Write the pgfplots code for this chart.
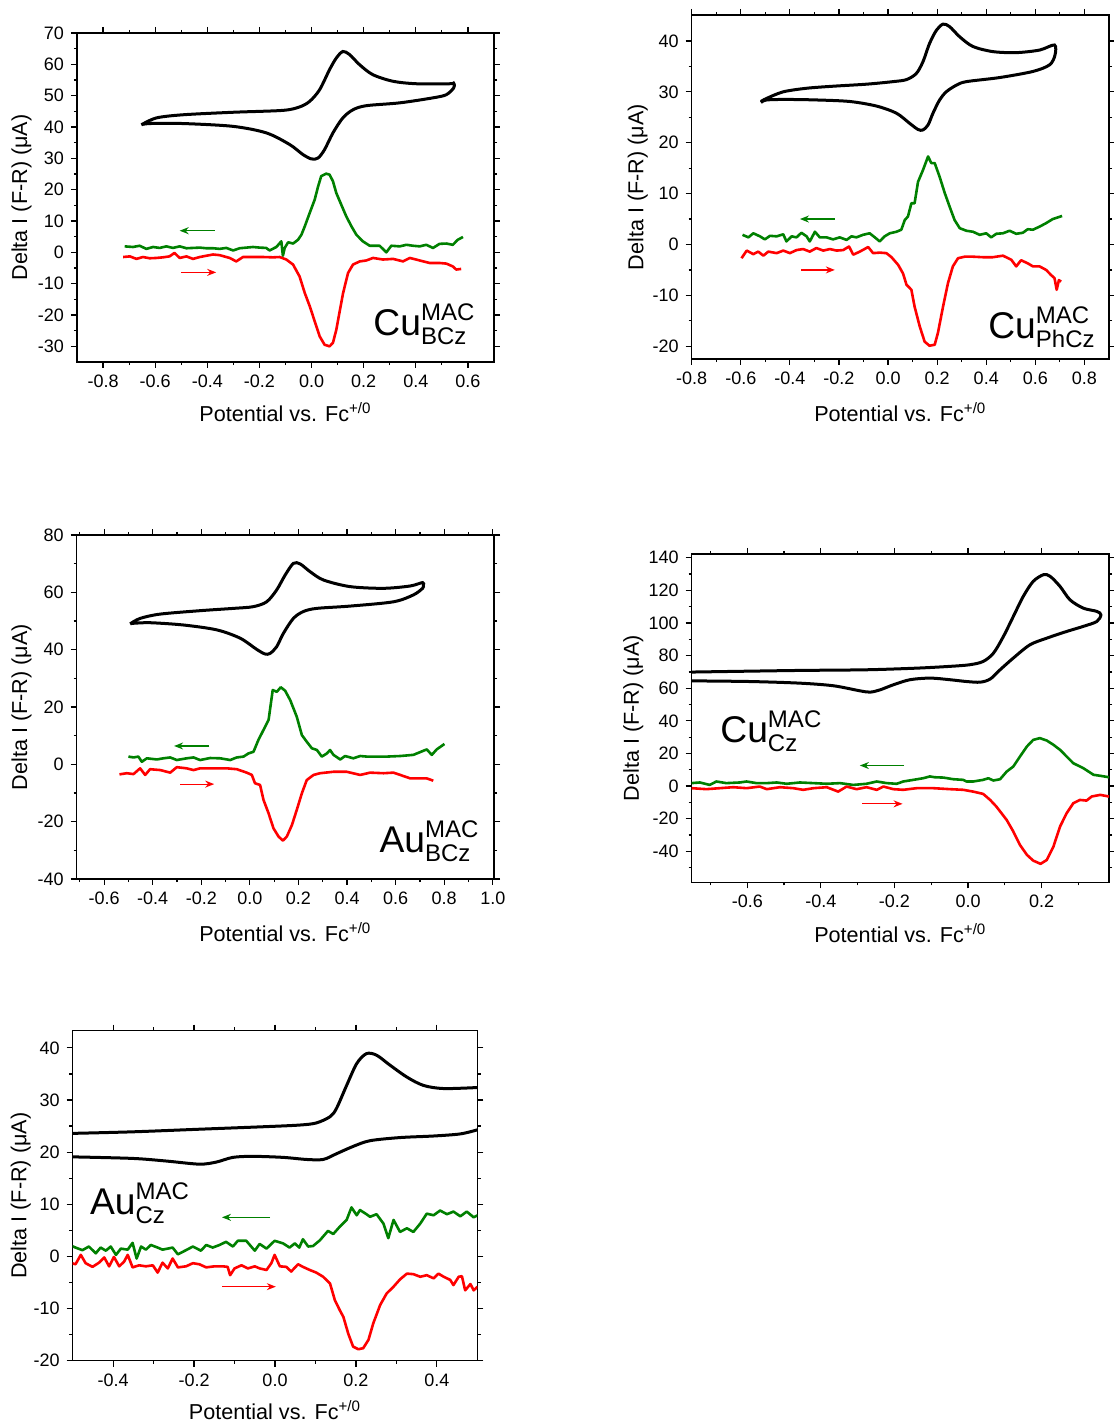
\documentclass[border=0pt]{standalone}
\usepackage{fontspec}
\setmainfont{Liberation Sans}
\usepackage{pgfplots}
\pgfplotsset{compat=1.18}
\usetikzlibrary{arrows.meta}
\definecolor{dgreen}{RGB}{0,128,0}
\newcommand{\cpd}[3]{{\fontsize{18.6}{20}\selectfont #1\rlap{\raisebox{0.4em}{\fontsize{12}{13}\selectfont #2}}\raisebox{-0.24em}{\fontsize{12}{13}\selectfont #3}}}
\pgfplotsset{
  panel/.style={
    scale only axis, anchor=south west,
    axis line style={line width=0.6pt},
    tick align=outside,
    major tick length=3pt, minor tick length=1.6pt,
    tick style={line width=0.6pt, black},
    tick label style={font=\fontsize{9}{10}\selectfont},
    label style={font=\fontsize{10.8}{12}\selectfont},
    /pgf/number format/assume math mode=true,
    x tick label style={/pgf/number format/.cd, fixed, fixed zerofill, precision=1, /tikz/.cd},
    xlabel={Potential vs. Fc\textsuperscript{+/0}},
    ylabel={Delta I (F-R) (μA)},
    xlabel style={anchor=base},
    ylabel style={anchor=center},
  },
  cv/.style={black, line width=1.5pt, smooth, tension=0.5},
  fw/.style={dgreen, line width=1.3pt, line join=round},
  rv/.style={red, line width=1.3pt, line join=round},
}
\begin{document}
\begin{tikzpicture}
\useasboundingbox (0,0) rectangle (556.5pt,714pt);

% ---------------- Panel 1: Cu BCz
\begin{axis}[panel, at={(38.5pt,533pt)}, width=208.5pt, height=164.5pt,
  xmin=-0.9, xmax=0.7, ymin=-35, ymax=70,
  xtick={-0.8,-0.6,-0.4,-0.2,0,0.2,0.4,0.6},
  minor xtick={-0.7,-0.5,-0.3,-0.1,0.1,0.3,0.5},
  ytick={-30,-20,-10,0,10,20,30,40,50,60,70},
  minor ytick={-25,-15,-5,5,15,25,35,45,55,65},
  xlabel style={at={(axis description cs:0.5,-0.182)}},
  ylabel style={at={(axis description cs:-0.133,0.5)}}]
\addplot[cv] coordinates {(-0.653,40.7) (-0.595,42.9) (-0.493,43.9) (-0.301,44.7) (-0.11,45.3) (-0.046,46.4) (-0.007,48.2) (0.031,51.9) (0.069,58.3) (0.095,62.0) (0.12,64.1) (0.146,63.1) (0.184,59.9) (0.235,56.7) (0.312,54.6) (0.402,53.8) (0.53,53.8) (0.545,54.0) (0.548,53.2) (0.545,52.4) (0.517,50.3) (0.466,49.3) (0.338,47.7) (0.21,46.8) (0.159,45.5) (0.12,42.9) (0.082,38.1) (0.05,32.8) (0.025,30.1) (0.0,29.8) (-0.033,31.2) (-0.084,34.4) (-0.173,38.1) (-0.301,40.2) (-0.493,41.1) (-0.621,41.1) (-0.653,40.7)};
\addplot[fw] coordinates {(-0.717,1.9)(-0.685,1.7)(-0.660,2.1)(-0.634,1.1)(-0.608,1.7)(-0.583,1.4)(-0.557,1.9)(-0.532,1.4)(-0.506,1.9)(-0.480,1.3)(-0.455,1.4)(-0.429,1.5)(-0.404,1.3)(-0.378,1.3)(-0.353,1.1)(-0.327,1.4)(-0.301,0.6)(-0.276,1.3)(-0.250,1.5)(-0.225,1.7)(-0.199,1.5)(-0.174,1.4)(-0.161,0.6)(-0.135,1.7)(-0.116,3.5)(-0.110,-1.1)(-0.103,1.4)(-0.090,3.2)(-0.071,2.8)(-0.052,4.0)(-0.039,5.6)(-0.026,8.3)(-0.007,12.6)(0.012,16.8)(0.025,21.0)(0.037,24.3)(0.056,25.1)(0.069,24.8)(0.082,22.7)(0.095,18.9)(0.114,15.2)(0.133,11.5)(0.153,8.3)(0.172,5.6)(0.197,3.5)(0.223,2.1)(0.261,2.1)(0.287,0)(0.306,2.1)(0.338,1.9)(0.364,2.4)(0.389,2.1)(0.415,1.9)(0.440,2.4)(0.466,1.4)(0.491,2.7)(0.517,2.8)(0.542,2.4)(0.561,4.0)(0.581,4.9)};
\addplot[rv] coordinates {(-0.723,-1.5)(-0.697,-1.3)(-0.672,-2.1)(-0.647,-1.5)(-0.621,-1.9)(-0.596,-1.8)(-0.570,-1.6)(-0.545,-1.3)(-0.526,-0.2)(-0.506,-1.8)(-0.480,-1.3)(-0.455,-2.1)(-0.429,-1.5)(-0.404,-1.1)(-0.378,-0.7)(-0.353,-0.9)(-0.314,-1.8)(-0.289,-2.9)(-0.263,-1.5)(-0.225,-1.5)(-0.186,-1.5)(-0.148,-1.6)(-0.122,-1.5)(-0.097,-2.3)(-0.071,-3.9)(-0.046,-7.7)(-0.026,-13.0)(-0.007,-17.2)(0.012,-22.0)(0.031,-26.8)(0.050,-29.5)(0.069,-30.0)(0.082,-28.9)(0.095,-24.7)(0.108,-18.8)(0.121,-13.0)(0.140,-6.6)(0.159,-3.9)(0.185,-2.9)(0.210,-2.6)(0.236,-1.8)(0.274,-2.3)(0.313,-2.1)(0.351,-2.9)(0.377,-1.8)(0.415,-2.6)(0.453,-3.4)(0.491,-3.4)(0.517,-3.6)(0.542,-4.5)(0.555,-5.5)(0.574,-5.3)};
\draw[dgreen, line width=0.6pt, -{Stealth[length=4.5pt,width=3.5pt]}] (axis cs:-0.372,6.9) -- (axis cs:-0.506,6.9);
\draw[red, line width=0.6pt, -{Stealth[length=4.5pt,width=3.5pt]}] (axis cs:-0.5,-6.4) -- (axis cs:-0.366,-6.4);
\node[anchor=base west, inner sep=0pt] at (axis cs:0.236,-26.6) {\cpd{Cu}{MAC}{BCz}};
\end{axis}

% ---------------- Panel 2: Cu PhCz
\begin{axis}[panel, at={(345.85pt,534.5pt)}, width=208.65pt, height=172pt,
  xmin=-0.8, xmax=0.9, ymin=-22.5, ymax=45.1,
  xtick={-0.8,-0.6,-0.4,-0.2,0,0.2,0.4,0.6,0.8},
  minor xtick={-0.7,-0.5,-0.3,-0.1,0.1,0.3,0.5,0.7},
  ytick={-20,-10,0,10,20,30,40},
  minor ytick={-15,-5,5,15,25,35},
  xlabel style={at={(axis description cs:0.5,-0.182)}},
  ylabel style={at={(axis description cs:-0.129,0.5)}}]
\addplot[cv] coordinates {(-0.518,28.1)(-0.495,28.7)(-0.427,30.0)(-0.332,30.7)(-0.224,31.1)(-0.088,31.5)(0.02,32.0)(0.075,32.4)(0.115,33.6)(0.142,35.9)(0.169,39.5)(0.197,42.1)(0.224,43.3)(0.251,42.8)(0.292,40.8)(0.346,38.9)(0.427,37.9)(0.522,37.7)(0.617,38.2)(0.678,39.2)(0.68,37.2)(0.658,35.3)(0.59,34.0)(0.454,32.8)(0.319,32.0)(0.278,31.3)(0.237,30.0)(0.21,28.4)(0.183,25.8)(0.163,23.5)(0.142,22.5)(0.122,22.6)(0.088,23.8)(0.034,25.8)(-0.047,27.2)(-0.156,28.1)(-0.292,28.4)(-0.414,28.5)(-0.495,28.4)(-0.518,27.9)};
\addplot[fw] coordinates {(-0.593,1.9)(-0.569,1.4)(-0.549,2.2)(-0.522,1.6)(-0.502,1.0)(-0.481,1.7)(-0.454,1.6)(-0.427,2.0)(-0.414,0.6)(-0.393,1.6)(-0.373,1.4)(-0.353,2.3)(-0.332,1.6)(-0.319,0.6)(-0.298,2.5)(-0.278,1.4)(-0.251,1.4)(-0.224,1.0)(-0.197,1.4)(-0.169,0.9)(-0.149,1.6)(-0.129,1.4)(-0.102,1.9)(-0.075,2.2)(-0.054,1.4)(-0.034,0.6)(-0.014,1.6)(0.007,2.2)(0.034,2.5)(0.054,2.9)(0.068,4.8)(0.081,5.5)(0.095,8.1)(0.108,8.1)(0.122,12.3)(0.142,14.6)(0.163,17.3)(0.176,16.0)(0.190,16.0)(0.210,13.3)(0.231,10.1)(0.251,7.4)(0.271,4.8)(0.292,3.2)(0.319,2.7)(0.346,2.5)(0.373,1.9)(0.400,2.2)(0.420,1.4)(0.441,2.1)(0.468,2.2)(0.495,2.7)(0.522,2.1)(0.549,2.3)(0.569,3.0)(0.590,2.9)(0.617,3.5)(0.644,4.2)(0.671,5.0)(0.709,5.6)};
\addplot[rv] coordinates {(-0.597,-2.7)(-0.576,-1.2)(-0.549,-1.9)(-0.529,-1.4)(-0.508,-2.2)(-0.488,-1.4)(-0.454,-1.7)(-0.427,-1.2)(-0.400,-1.7)(-0.373,-1.1)(-0.346,-0.9)(-0.319,-1.4)(-0.292,-0.7)(-0.264,-1.2)(-0.237,-0.9)(-0.210,-1.2)(-0.183,-1.1)(-0.159,-0.4)(-0.142,-2.0)(-0.115,-1.4)(-0.081,-0.5)(-0.061,-1.7)(-0.034,-1.6)(-0.007,-1.7)(0.014,-2.5)(0.041,-4.0)(0.061,-5.7)(0.075,-7.9)(0.095,-8.9)(0.108,-12.2)(0.129,-16.1)(0.149,-19.1)(0.169,-19.9)(0.190,-19.7)(0.203,-17.4)(0.224,-12.2)(0.244,-7.6)(0.264,-4.3)(0.285,-2.7)(0.312,-2.4)(0.346,-2.4)(0.386,-2.5)(0.427,-2.5)(0.468,-2.2)(0.502,-3.0)(0.522,-4.3)(0.542,-3.1)(0.569,-3.7)(0.590,-4.3)(0.617,-4.3)(0.644,-5.0)(0.664,-6.0)(0.678,-6.6)(0.687,-8.9)(0.696,-7.0)(0.705,-7.3)};
\draw[dgreen, line width=0.6pt, -{Stealth[length=4.5pt,width=3.5pt]}] (axis cs:-0.217,5.0) -- (axis cs:-0.359,5.0);
\draw[red, line width=0.6pt, -{Stealth[length=4.5pt,width=3.5pt]}] (axis cs:-0.353,-5.0) -- (axis cs:-0.217,-5.0);
\node[anchor=base west, inner sep=0pt] at (axis cs:0.407,-18.4) {\cpd{Cu}{MAC}{PhCz}};
\end{axis}

% ---------------- Panel 3: Au BCz
\begin{axis}[panel, at={(38.35pt,274.5pt)}, width=208.65pt, height=172pt,
  xmin=-0.713, xmax=1.005, ymin=-40, ymax=80,
  xtick={-0.6,-0.4,-0.2,0,0.2,0.4,0.6,0.8,1.0},
  minor xtick={-0.7,-0.5,-0.3,-0.1,0.1,0.3,0.5,0.7,0.9},
  ytick={-40,-20,0,20,40,60,80},
  minor ytick={-30,-10,10,30,50,70},
  xlabel style={at={(axis description cs:0.5,-0.182)}},
  ylabel style={at={(axis description cs:-0.132,0.5)}}]
\addplot[cv] coordinates {(-0.493,49.0)(-0.452,50.9)(-0.37,52.4)(-0.205,53.6)(-0.068,54.4)(0.014,55.0)(0.069,56.7)(0.11,60.8)(0.145,66.0)(0.179,70.1)(0.207,69.9)(0.248,67.2)(0.303,64.3)(0.412,62.0)(0.549,61.4)(0.659,62.2)(0.711,63.4)(0.714,62.4)(0.711,61.4)(0.673,59.1)(0.591,56.7)(0.412,55.2)(0.275,54.4)(0.22,53.3)(0.179,50.9)(0.138,45.7)(0.11,41.0)(0.083,38.7)(0.062,38.5)(0.028,40.1)(-0.04,44.0)(-0.136,46.9)(-0.273,48.6)(-0.41,49.4)(-0.479,49.2)(-0.493,49.0)};
\addplot[fw] coordinates {(-0.500,2.7)(-0.479,2.4)(-0.459,2.7)(-0.445,0.9)(-0.424,2.1)(-0.383,1.7)(-0.356,2.1)(-0.328,2.4)(-0.301,1.5)(-0.260,2.1)(-0.232,2.4)(-0.205,1.5)(-0.164,2.2)(-0.122,2.1)(-0.081,1.5)(-0.054,2.4)(-0.026,2.7)(-0.006,3.8)(0.015,4.4)(0.035,8.5)(0.056,12.0)(0.077,15.5)(0.094,25.9)(0.111,25.3)(0.127,26.9)(0.145,25.7)(0.166,22.4)(0.193,16.6)(0.214,10.2)(0.234,7.9)(0.255,5.6)(0.276,5.0)(0.296,2.7)(0.317,3.8)(0.330,5.0)(0.344,3.3)(0.372,1.7)(0.392,2.9)(0.426,2.1)(0.454,2.9)(0.481,2.7)(0.522,2.7)(0.564,2.7)(0.619,2.9)(0.673,3.3)(0.728,5.2)(0.749,3.3)(0.769,5.2)(0.801,7.1)};
\addplot[rv] coordinates {(-0.537,-3.5)(-0.507,-3.1)(-0.479,-3.4)(-0.452,-1.4)(-0.431,-3.7)(-0.411,-1.7)(-0.369,-2.0)(-0.328,-2.9)(-0.301,-1.0)(-0.260,-1.4)(-0.232,-2.0)(-0.205,-1.4)(-0.150,-1.4)(-0.095,-1.4)(-0.054,-1.7)(-0.013,-2.9)(0.008,-3.7)(0.021,-6.6)(0.042,-7.2)(0.056,-12.4)(0.077,-17.1)(0.097,-22.3)(0.118,-25.2)(0.136,-26.6)(0.152,-25.2)(0.173,-21.2)(0.193,-15.9)(0.214,-10.1)(0.234,-5.5)(0.262,-3.7)(0.289,-3.1)(0.344,-2.6)(0.399,-2.6)(0.454,-3.7)(0.495,-2.9)(0.550,-3.1)(0.591,-2.9)(0.619,-3.7)(0.660,-4.9)(0.701,-4.9)(0.728,-4.9)(0.755,-5.7)};
\draw[dgreen, line width=0.6pt, -{Stealth[length=4.5pt,width=3.5pt]}] (axis cs:-0.167,6.4) -- (axis cs:-0.312,6.4);
\draw[red, line width=0.6pt, -{Stealth[length=4.5pt,width=3.5pt]}] (axis cs:-0.287,-6.9) -- (axis cs:-0.147,-6.9);
\node[anchor=base west, inner sep=0pt] at (axis cs:0.532,-30.8) {\cpd{Au}{MAC}{BCz}};
\end{axis}

% ---------------- Panel 4: Cu Cz
\begin{axis}[panel, at={(345.85pt,272.85pt)}, width=208.65pt, height=164.15pt,
  xmin=-0.751, xmax=0.383, ymin=-59, ymax=142.3,
  xtick={-0.6,-0.4,-0.2,0,0.2},
  minor xtick={-0.7,-0.5,-0.3,-0.1,0.1,0.3},
  ytick={-40,-20,0,20,40,60,80,100,120,140},
  minor ytick={-50,-30,-10,10,30,50,70,90,110,130},
  xlabel style={at={(axis description cs:0.5,-0.184)}},
  ylabel style={at={(axis description cs:-0.140,0.5)}}]
\addplot[cv] coordinates {(-0.751,69.9)(-0.638,70.3)(-0.457,70.9)(-0.276,71.3)(-0.140,72.3)(-0.049,73.4)(0.005,74.4)(0.041,76.4)(0.069,81.5)(0.096,91.7)(0.123,104)(0.150,116.3)(0.177,125.5)(0.205,129.6)(0.223,128.6)(0.250,122.4)(0.277,114.2)(0.313,109.1)(0.350,107.1)(0.361,105)(0.350,100.9)(0.313,97.9)(0.268,94.8)(0.214,90.7)(0.168,86.6)(0.123,78.5)(0.087,71.3)(0.060,65.6)(0.033,63.7)(-0.004,64.1)(-0.049,65.2)(-0.103,66.2)(-0.158,65.2)(-0.203,62.1)(-0.239,59.0)(-0.266,57.6)(-0.294,58.4)(-0.366,61.5)(-0.457,63.1)(-0.593,64.1)(-0.751,64.5)};
\addplot[fw] coordinates {(-0.751,1.8)(-0.729,2.2)(-0.702,0.7)(-0.684,2.8)(-0.657,1.8)(-0.620,2.2)(-0.602,2.8)(-0.575,1.8)(-0.547,1.8)(-0.520,2.2)(-0.493,1.4)(-0.457,2.2)(-0.420,1.8)(-0.384,1.4)(-0.348,1.8)(-0.312,0.7)(-0.276,1.4)(-0.248,2.8)(-0.221,1.8)(-0.194,1.4)(-0.176,2.8)(-0.149,3.8)(-0.122,4.8)(-0.104,5.9)(-0.090,5.4)(-0.067,5.2)(-0.040,4.2)(-0.013,3.8)(-0.004,2.8)(0.014,2.8)(0.041,3.8)(0.055,4.8)(0.069,3.4)(0.087,4.2)(0.105,8.9)(0.123,12.0)(0.141,18.1)(0.160,24.3)(0.177,28.3)(0.195,29.4)(0.214,27.9)(0.232,25.3)(0.250,22.2)(0.268,18.1)(0.286,14.0)(0.313,11.0)(0.341,6.9)(0.359,6.3)(0.383,5.4)};
\addplot[rv] coordinates {(-0.751,-1.3)(-0.711,-1.9)(-0.675,-1.3)(-0.638,-0.7)(-0.602,-1.3)(-0.566,-0.3)(-0.547,-1.9)(-0.511,-0.7)(-0.475,-1.3)(-0.448,-2.3)(-0.420,-1.3)(-0.384,-0.7)(-0.353,-3.4)(-0.330,-0.3)(-0.303,-1.9)(-0.276,-0.7)(-0.248,-2.3)(-0.230,-0.3)(-0.203,-1.9)(-0.176,-2.3)(-0.140,-1.3)(-0.094,-1.3)(-0.049,-1.9)(-0.013,-2.3)(0.014,-3.4)(0.041,-4.8)(0.060,-8.5)(0.077,-12.6)(0.105,-20.8)(0.123,-27.9)(0.141,-36.1)(0.160,-42.2)(0.177,-45.7)(0.197,-47.7)(0.214,-45.3)(0.232,-37.1)(0.250,-24.8)(0.268,-16.6)(0.286,-10.5)(0.304,-8.5)(0.322,-8.9)(0.336,-6.4)(0.359,-5.4)(0.383,-6.4)};
\draw[dgreen, line width=0.6pt, -{Stealth[length=4.5pt,width=3.5pt]}] (axis cs:-0.174,12.6) -- (axis cs:-0.294,12.6);
\draw[red, line width=0.6pt, -{Stealth[length=4.5pt,width=3.5pt]}] (axis cs:-0.288,-10.9) -- (axis cs:-0.178,-10.9);
\node[anchor=base west, inner sep=0pt] at (axis cs:-0.674,26.7) {\cpd{Cu}{MAC}{Cz}};
\end{axis}

% ---------------- Panel 5: Au Cz
\begin{axis}[panel, at={(36.35pt,33.65pt)}, width=202.3pt, height=165pt,
  xmin=-0.5, xmax=0.5, ymin=-20, ymax=43.3,
  xtick={-0.4,-0.2,0,0.2,0.4},
  minor xtick={-0.3,-0.1,0.1,0.3},
  ytick={-20,-10,0,10,20,30,40},
  minor ytick={-15,-5,5,15,25,35},
  xlabel style={at={(axis description cs:0.5,-0.179)}},
  ylabel style={at={(axis description cs:-0.1285,0.5)}}]
\addplot[cv] coordinates {(-0.502,23.6)(-0.352,23.9)(-0.187,24.4)(-0.021,24.9)(0.061,25.2)(0.102,25.6)(0.136,26.8)(0.152,28.4)(0.177,32.8)(0.202,37.0)(0.226,38.9)(0.251,38.6)(0.284,36.7)(0.326,34.4)(0.367,32.8)(0.417,32.2)(0.501,32.4)};
\addplot[cv] coordinates {(-0.502,19.1)(-0.352,18.8)(-0.269,18.3)(-0.187,17.7)(-0.145,18.1)(-0.104,19.0)(-0.055,19.2)(0.020,19.0)(0.078,18.6)(0.119,18.6)(0.152,19.7)(0.193,21.1)(0.235,22.2)(0.309,22.8)(0.392,23.1)(0.458,23.5)(0.501,24.3)};
\addplot[fw] coordinates {(-0.502,2.0)(-0.493,1.7)(-0.476,1.2)(-0.460,1.9)(-0.443,0.6)(-0.431,1.7)(-0.418,1.1)(-0.406,1.9)(-0.393,0.3)(-0.381,1.5)(-0.364,1.3)(-0.352,2.6)(-0.342,-0.4)(-0.331,1.9)(-0.319,1.3)(-0.307,2.2)(-0.290,1.7)(-0.278,1.3)(-0.265,1.5)(-0.253,1.7)(-0.240,0.4)(-0.220,1.2)(-0.203,1.9)(-0.183,1.1)(-0.170,2.2)(-0.154,1.7)(-0.137,2.2)(-0.121,2.8)(-0.104,1.9)(-0.092,3.0)(-0.071,3.0)(-0.050,1.1)(-0.038,2.4)(-0.021,1.5)(-0.001,3.0)(0.020,2.5)(0.036,1.7)(0.049,2.5)(0.060,1.7)(0.069,3.3)(0.082,1.9)(0.094,2.0)(0.111,3.1)(0.131,4.9)(0.144,4.3)(0.160,5.7)(0.177,7.0)(0.189,9.4)(0.202,7.9)(0.210,8.9)(0.226,8.1)(0.235,7.6)(0.251,8.1)(0.268,6.3)(0.280,3.5)(0.293,7.0)(0.309,4.7)(0.326,5.4)(0.342,4.7)(0.359,6.3)(0.375,8.2)(0.392,7.9)(0.408,8.8)(0.425,8.1)(0.441,8.6)(0.458,7.7)(0.474,8.6)(0.491,7.5)(0.501,7.9)};
\addplot[rv] coordinates {(-0.502,-1.3)(-0.493,-1.5)(-0.480,0.3)(-0.468,-1.3)(-0.451,-2.0)(-0.435,-1.2)(-0.422,-0.2)(-0.410,-1.9)(-0.398,-0.1)(-0.385,-1.9)(-0.373,-1.0)(-0.364,0.3)(-0.352,-2.1)(-0.336,-1.7)(-0.319,-1.9)(-0.302,-1.7)(-0.290,-3.1)(-0.278,-1.2)(-0.265,-2.3)(-0.253,-0.4)(-0.240,-2.1)(-0.220,-1.9)(-0.203,-1.3)(-0.187,-1.5)(-0.170,-2.1)(-0.150,-1.9)(-0.129,-1.9)(-0.117,-2.0)(-0.111,-3.6)(-0.100,-2.3)(-0.083,-1.7)(-0.067,-2.3)(-0.050,-1.9)(-0.038,-2.3)(-0.021,-2.6)(-0.009,-1.3)(-0.001,0.3)(0.012,-1.9)(0.028,-2.0)(0.040,-2.9)(0.057,-1.5)(0.069,-2.0)(0.086,-2.6)(0.102,-3.1)(0.119,-3.9)(0.136,-5.2)(0.148,-8.4)(0.160,-10.3)(0.169,-11.6)(0.181,-14.8)(0.193,-17.3)(0.206,-17.8)(0.218,-17.6)(0.231,-16.0)(0.243,-12.8)(0.260,-9.3)(0.276,-7.1)(0.293,-5.8)(0.309,-4.4)(0.326,-3.3)(0.342,-3.4)(0.359,-3.9)(0.375,-3.6)(0.392,-4.2)(0.404,-3.3)(0.417,-3.9)(0.433,-4.5)(0.441,-5.5)(0.454,-3.9)(0.462,-3.8)(0.470,-6.5)(0.483,-5.3)(0.491,-6.5)(0.501,-5.8)};
\draw[dgreen, line width=0.6pt, -{Stealth[length=4.5pt,width=3.5pt]}] (axis cs:-0.012,7.5) -- (axis cs:-0.131,7.5);
\draw[red, line width=0.6pt, -{Stealth[length=4.5pt,width=3.5pt]}] (axis cs:-0.131,-5.8) -- (axis cs:0.002,-5.8);
\node[anchor=base west, inner sep=0pt] at (axis cs:-0.458,8.1) {\cpd{Au}{MAC}{Cz}};
\end{axis}
\end{tikzpicture}
\end{document}
